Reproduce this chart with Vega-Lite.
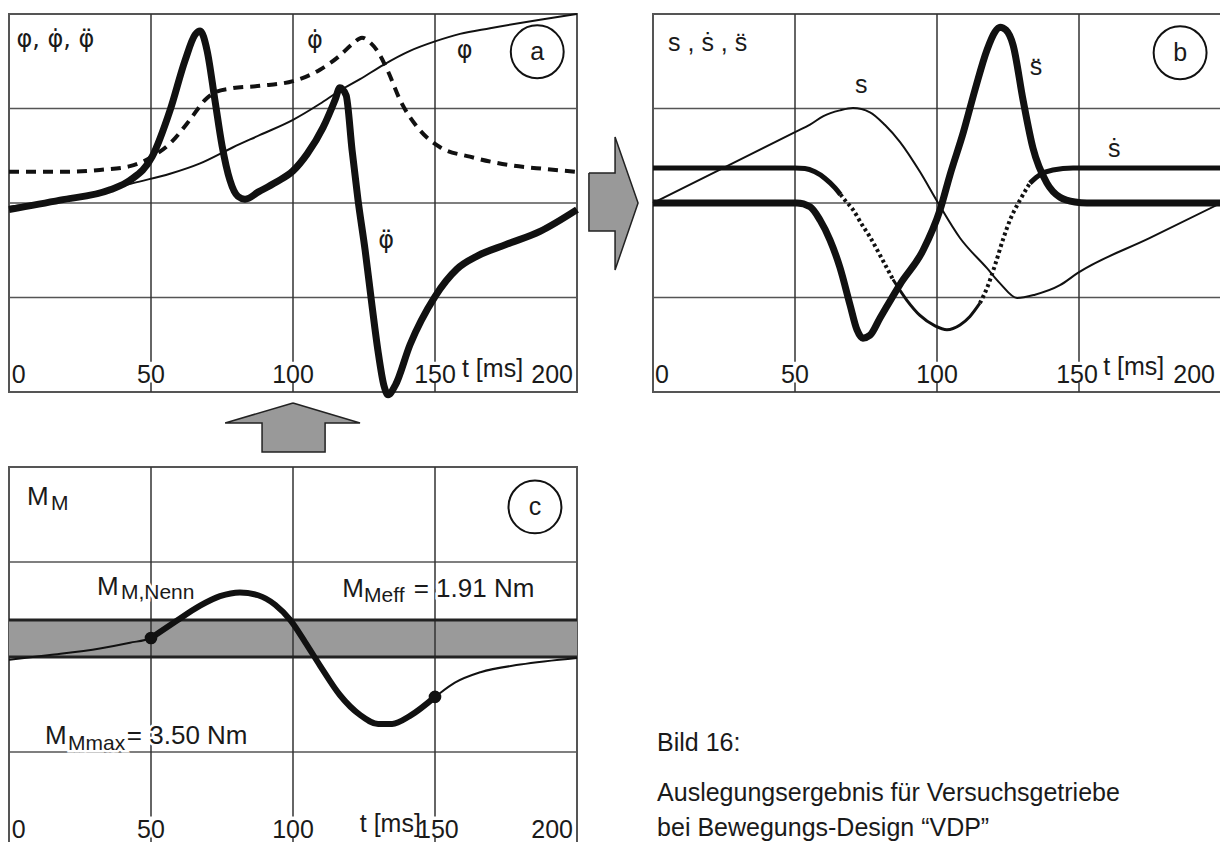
{
  "$schema": "https://vega.github.io/schema/vega-lite/v6.json",
  "background": "white",
  "padding": {"left": -6, "top": 9, "right": 0, "bottom": 0},
  "spacing": 8,
  "config": {
    "view": {"stroke": "#555", "strokeWidth": 2},
    "text": {"font": "Liberation Sans", "color": "#1a1a1a"}
  },
  "datasets": {
    "hgrid": [
      {"t": 0, "t2": 200, "v": -1},
      {"t": 0, "t2": 200, "v": 0},
      {"t": 0, "t2": 200, "v": 1}
    ],
    "vgrid": [
      {"t": 50, "v": -1.68, "v2": 2}, {"t": 50, "v": -2, "v2": -1.9},
      {"t": 100, "v": -1.68, "v2": 2}, {"t": 100, "v": -2, "v2": -1.9},
      {"t": 150, "v": -1.68, "v2": 2}, {"t": 150, "v": -2, "v2": -1.9}
    ],
    "a_phi": [
      {"t": 0, "v": -0.04}, {"t": 14.4, "v": 0.02}, {"t": 32, "v": 0.11}, {"t": 43.7, "v": 0.21},
      {"t": 56.7, "v": 0.31}, {"t": 67.3, "v": 0.42}, {"t": 78.9, "v": 0.59}, {"t": 88.4, "v": 0.72},
      {"t": 100, "v": 0.88}, {"t": 109.5, "v": 1.05}, {"t": 116.5, "v": 1.19}, {"t": 123.6, "v": 1.31},
      {"t": 131.7, "v": 1.46}, {"t": 141.2, "v": 1.61}, {"t": 150, "v": 1.71}, {"t": 158.8, "v": 1.79},
      {"t": 169.4, "v": 1.85}, {"t": 187, "v": 1.94}, {"t": 200, "v": 2.0}
    ],
    "a_dphi": [
      {"t": 0, "v": 0.33}, {"t": 18, "v": 0.33}, {"t": 32, "v": 0.35}, {"t": 42.6, "v": 0.39},
      {"t": 50.4, "v": 0.49}, {"t": 56.7, "v": 0.63}, {"t": 63.7, "v": 0.88}, {"t": 69, "v": 1.09},
      {"t": 72.5, "v": 1.17}, {"t": 77.8, "v": 1.21}, {"t": 88.4, "v": 1.24}, {"t": 100, "v": 1.29},
      {"t": 109.5, "v": 1.41}, {"t": 116.5, "v": 1.56}, {"t": 120.8, "v": 1.68}, {"t": 124.3, "v": 1.75},
      {"t": 127.1, "v": 1.7}, {"t": 129.9, "v": 1.6}, {"t": 133.5, "v": 1.39}, {"t": 137.7, "v": 1.09},
      {"t": 144.7, "v": 0.77}, {"t": 151.8, "v": 0.59}, {"t": 162.3, "v": 0.49}, {"t": 176.4, "v": 0.4},
      {"t": 188.7, "v": 0.36}, {"t": 200, "v": 0.33}
    ],
    "a_ddphi": [
      {"t": 0, "v": -0.07}, {"t": 18, "v": 0.03}, {"t": 35.6, "v": 0.14}, {"t": 42.6, "v": 0.24},
      {"t": 50.4, "v": 0.49}, {"t": 56.7, "v": 0.98}, {"t": 62, "v": 1.51}, {"t": 65.5, "v": 1.78},
      {"t": 67.3, "v": 1.82}, {"t": 69.7, "v": 1.62}, {"t": 72.5, "v": 1.09}, {"t": 75, "v": 0.61},
      {"t": 77.8, "v": 0.24}, {"t": 80.6, "v": 0.07}, {"t": 83.1, "v": 0.04}, {"t": 88, "v": 0.12},
      {"t": 94, "v": 0.22}, {"t": 100, "v": 0.34}, {"t": 105, "v": 0.52}, {"t": 110.6, "v": 0.8},
      {"t": 114.8, "v": 1.09}, {"t": 116.5, "v": 1.22}, {"t": 118.7, "v": 1.14}, {"t": 120.8, "v": 0.56},
      {"t": 122.9, "v": 0.03}, {"t": 125.4, "v": -0.5}, {"t": 127.8, "v": -1.08}, {"t": 129.9, "v": -1.56},
      {"t": 132, "v": -1.93}, {"t": 133.5, "v": -2.03}, {"t": 136, "v": -1.93}, {"t": 141.2, "v": -1.5},
      {"t": 150, "v": -0.99}, {"t": 157.7, "v": -0.7}, {"t": 165, "v": -0.56}, {"t": 175, "v": -0.44},
      {"t": 187, "v": -0.3}, {"t": 200, "v": -0.07}
    ],
    "arrows": [
      {"shape": "right", "i": 0, "t": 204.2, "v": 0.317},
      {"shape": "right", "i": 1, "t": 213.4, "v": 0.317},
      {"shape": "right", "i": 2, "t": 213.4, "v": 0.698},
      {"shape": "right", "i": 3, "t": 221.5, "v": 0},
      {"shape": "right", "i": 4, "t": 213.4, "v": -0.709},
      {"shape": "right", "i": 5, "t": 213.4, "v": -0.296},
      {"shape": "right", "i": 6, "t": 204.2, "v": -0.296},
      {"shape": "right", "i": 7, "t": 204.2, "v": 0.317},
      {"shape": "up", "i": 0, "t": 100, "v": -2.116},
      {"shape": "up", "i": 1, "t": 123.6, "v": -2.328},
      {"shape": "up", "i": 2, "t": 111.3, "v": -2.328},
      {"shape": "up", "i": 3, "t": 111.3, "v": -2.635},
      {"shape": "up", "i": 4, "t": 89.1, "v": -2.635},
      {"shape": "up", "i": 5, "t": 89.1, "v": -2.328},
      {"shape": "up", "i": 6, "t": 76.1, "v": -2.328},
      {"shape": "up", "i": 7, "t": 100, "v": -2.116}
    ],
    "a_txt": [
      {"t": 2.6, "v": 1.65, "txt": "φ, φ̇, φ̈", "pos": "g"},
      {"t": 104.9, "v": 1.64, "txt": "φ̇", "pos": "g"},
      {"t": 157.7, "v": 1.53, "txt": "φ", "pos": "g"},
      {"t": 130, "v": -0.48, "txt": "φ̈", "pos": "g"},
      {"t": 1.0, "v": -1.905, "txt": "0", "pos": "l"},
      {"t": 159.5, "v": -1.84, "txt": "t [ms]", "pos": "l"},
      {"t": 50, "v": -1.905, "txt": "50", "pos": "c"},
      {"t": 100, "v": -1.905, "txt": "100", "pos": "c"},
      {"t": 150, "v": -1.905, "txt": "150", "pos": "c"},
      {"t": 198.6, "v": -1.905, "txt": "200", "pos": "r"},
      {"t": 186, "v": 1.6, "txt": "a", "pos": "m"}
    ],
    "b_s": [
      {"t": 0, "v": 0}, {"t": 25, "v": 0.375}, {"t": 50, "v": 0.751}, {"t": 55.3, "v": 0.83},
      {"t": 60, "v": 0.92}, {"t": 65.8, "v": 0.98}, {"t": 70.4, "v": 1.005}, {"t": 76.4, "v": 0.96},
      {"t": 81.7, "v": 0.825}, {"t": 87, "v": 0.645}, {"t": 94, "v": 0.33}, {"t": 100.4, "v": 0},
      {"t": 108.1, "v": -0.37}, {"t": 117.6, "v": -0.69}, {"t": 122.2, "v": -0.85}, {"t": 128.2, "v": -1.005},
      {"t": 134.5, "v": -0.97}, {"t": 143.3, "v": -0.87}, {"t": 149.6, "v": -0.74}, {"t": 175, "v": -0.37},
      {"t": 200, "v": 0}
    ],
    "b_ds": [
      {"seg": "a", "t": 0, "v": 0.37}, {"seg": "a", "t": 50, "v": 0.37}, {"seg": "a", "t": 53.5, "v": 0.365},
      {"seg": "a", "t": 57, "v": 0.33}, {"seg": "a", "t": 60.6, "v": 0.26}, {"seg": "a", "t": 64.1, "v": 0.16},
      {"seg": "a", "t": 66, "v": 0.09},
      {"seg": "b", "t": 66, "v": 0.09}, {"seg": "b", "t": 67.6, "v": 0.03}, {"seg": "b", "t": 70.4, "v": -0.07},
      {"seg": "b", "t": 73.6, "v": -0.23}, {"seg": "b", "t": 76.4, "v": -0.36}, {"seg": "b", "t": 79.9, "v": -0.55},
      {"seg": "b", "t": 84.5, "v": -0.81},
      {"seg": "c", "t": 84.5, "v": -0.81}, {"seg": "c", "t": 89.4, "v": -1.03}, {"seg": "c", "t": 94, "v": -1.19},
      {"seg": "c", "t": 99.3, "v": -1.3}, {"seg": "c", "t": 103.5, "v": -1.34}, {"seg": "c", "t": 108.1, "v": -1.29},
      {"seg": "c", "t": 111.6, "v": -1.2}, {"seg": "c", "t": 115.1, "v": -1.06},
      {"seg": "d", "t": 115.1, "v": -1.06}, {"seg": "d", "t": 117.6, "v": -0.9}, {"seg": "d", "t": 120.4, "v": -0.66},
      {"seg": "d", "t": 123.2, "v": -0.39}, {"seg": "d", "t": 125.7, "v": -0.18}, {"seg": "d", "t": 129.2, "v": 0.03},
      {"seg": "d", "t": 132.7, "v": 0.21},
      {"seg": "e", "t": 132.7, "v": 0.21}, {"seg": "e", "t": 136.3, "v": 0.3}, {"seg": "e", "t": 140.8, "v": 0.35},
      {"seg": "e", "t": 147.9, "v": 0.37}, {"seg": "e", "t": 200, "v": 0.37}
    ],
    "b_dds": [
      {"t": 0, "v": 0}, {"t": 50.7, "v": 0}, {"t": 55.3, "v": -0.04}, {"t": 58.8, "v": -0.18},
      {"t": 62.3, "v": -0.39}, {"t": 65.8, "v": -0.68}, {"t": 69.4, "v": -1.08}, {"t": 71.8, "v": -1.34},
      {"t": 73.9, "v": -1.43}, {"t": 76.4, "v": -1.4}, {"t": 79.9, "v": -1.22}, {"t": 87, "v": -0.86},
      {"t": 95.1, "v": -0.5}, {"t": 101.1, "v": -0.07}, {"t": 104.6, "v": 0.3}, {"t": 109.2, "v": 0.74},
      {"t": 113.4, "v": 1.2}, {"t": 117.6, "v": 1.62}, {"t": 120.4, "v": 1.81}, {"t": 122.2, "v": 1.86},
      {"t": 124.3, "v": 1.83}, {"t": 126.8, "v": 1.67}, {"t": 130.3, "v": 1.09}, {"t": 133.8, "v": 0.58},
      {"t": 138.7, "v": 0.21}, {"t": 143.3, "v": 0.06}, {"t": 148.6, "v": 0.01}, {"t": 152.8, "v": 0},
      {"t": 200, "v": 0}
    ],
    "b_txt": [
      {"t": 5.3, "v": 1.61, "txt": "s , ṡ , s̈", "pos": "l"},
      {"t": 71.1, "v": 1.16, "txt": "s", "pos": "l"},
      {"t": 132.7, "v": 1.35, "txt": "s̈", "pos": "l"},
      {"t": 160.2, "v": 0.49, "txt": "ṡ", "pos": "l"},
      {"t": 0.7, "v": -1.905, "txt": "0", "pos": "l"},
      {"t": 158.5, "v": -1.82, "txt": "t [ms]", "pos": "l"},
      {"t": 50, "v": -1.905, "txt": "50", "pos": "c"},
      {"t": 100, "v": -1.905, "txt": "100", "pos": "c"},
      {"t": 149.3, "v": -1.905, "txt": "150", "pos": "c"},
      {"t": 197.9, "v": -1.905, "txt": "200", "pos": "r"},
      {"t": 185.6, "v": 1.59, "txt": "b", "pos": "m"}
    ],
    "c_band": [{"t": 0, "t2": 200, "v": 0, "v2": 0.39}],
    "c_edges": [{"t": 0, "t2": 200, "v": 0}, {"t": 0, "t2": 200, "v": 0.39}],
    "c_hgrid": [{"t": 0, "t2": 200, "v": -1}, {"t": 0, "t2": 200, "v": 1}],
    "c_m": [
      {"t": 0, "v": -0.03}, {"t": 14.4, "v": 0.02}, {"t": 32, "v": 0.09}, {"t": 42.6, "v": 0.15},
      {"t": 50, "v": 0.2}, {"t": 58.5, "v": 0.37}, {"t": 67.3, "v": 0.54}, {"t": 74.3, "v": 0.64},
      {"t": 81.3, "v": 0.68}, {"t": 87.7, "v": 0.65}, {"t": 93.7, "v": 0.55}, {"t": 99, "v": 0.39},
      {"t": 104.2, "v": 0.16}, {"t": 109.5, "v": -0.09}, {"t": 116.5, "v": -0.4}, {"t": 123.6, "v": -0.61},
      {"t": 130, "v": -0.705}, {"t": 134.9, "v": -0.705}, {"t": 141.2, "v": -0.62}, {"t": 150, "v": -0.42},
      {"t": 157, "v": -0.27}, {"t": 166, "v": -0.16}, {"t": 180, "v": -0.08}, {"t": 200, "v": -0.01}
    ],
    "c_dots": [{"t": 50, "v": 0.2}, {"t": 150, "v": -0.42}],
    "c_txt": [
      {"t": 6.3, "v": 1.6, "txt": "M", "pos": "L"},
      {"t": 14.8, "v": 1.547, "txt": "M", "pos": "s"},
      {"t": 31, "v": 0.653, "txt": "M", "pos": "L"},
      {"t": 39.4, "v": 0.61, "txt": "M,Nenn", "pos": "s"},
      {"t": 117.3, "v": 0.632, "txt": "M", "pos": "L"},
      {"t": 125.0, "v": 0.58, "txt": "Meff", "pos": "s"},
      {"t": 142.5, "v": 0.632, "txt": "= 1.91 Nm", "pos": "L"},
      {"t": 12.7, "v": -0.916, "txt": "M", "pos": "L"},
      {"t": 20.8, "v": -0.98, "txt": "Mmax", "pos": "s"},
      {"t": 41.5, "v": -0.916, "txt": "= 3.50 Nm", "pos": "L"},
      {"t": 1.0, "v": -1.905, "txt": "0", "pos": "l"},
      {"t": 123.5, "v": -1.84, "txt": "t [ms]", "pos": "l"},
      {"t": 50, "v": -1.905, "txt": "50", "pos": "c"},
      {"t": 100, "v": -1.905, "txt": "100", "pos": "c"},
      {"t": 151, "v": -1.905, "txt": "150", "pos": "c"},
      {"t": 198.6, "v": -1.905, "txt": "200", "pos": "r"},
      {"t": 185.2, "v": 1.58, "txt": "c", "pos": "m"},
      {"t": 228.2, "v": -0.99, "txt": "Bild 16:", "pos": "l"},
      {"t": 228.2, "v": -1.516, "txt": "Auslegungsergebnis für Versuchsgetriebe", "pos": "l"},
      {"t": 228.2, "v": -1.884, "txt": "bei Bewegungs-Design “VDP”", "pos": "l"}
    ]
  },
  "vconcat": [
    {
      "hconcat": [
        {
          "width": 568,
          "height": 378,
          "encoding": {
            "x": {"field": "t", "type": "quantitative", "scale": {"domain": [0, 200], "nice": false, "zero": false}, "axis": null},
            "y": {"field": "v", "type": "quantitative", "scale": {"domain": [-2, 2], "nice": false, "zero": false}, "axis": null}
          },
          "layer": [
            {"data": {"name": "hgrid"}, "mark": {"type": "rule", "color": "#555", "strokeWidth": 1.5}, "encoding": {"x2": {"field": "t2"}}},
            {"data": {"name": "vgrid"}, "mark": {"type": "rule", "color": "#333", "strokeWidth": 1.5}, "encoding": {"y2": {"field": "v2"}}},
            {"data": {"name": "a_phi"}, "mark": {"type": "line", "color": "#111", "strokeWidth": 2, "interpolate": "monotone"}, "encoding": {}},
            {"data": {"name": "a_dphi"}, "mark": {"type": "line", "color": "#111", "strokeWidth": 4, "strokeDash": [10, 7], "interpolate": "monotone"}, "encoding": {}},
            {"data": {"name": "a_ddphi"}, "mark": {"type": "line", "color": "#111", "strokeWidth": 7, "interpolate": "monotone"}, "encoding": {}},
            {"data": {"name": "a_txt"}, "transform": [{"filter": "datum.pos == 'g'"}], "mark": {"type": "text", "align": "left", "baseline": "alphabetic", "fontSize": 24, "font": "DejaVu Sans"}, "encoding": {"text": {"field": "txt"}}},
            {"data": {"name": "a_txt"}, "transform": [{"filter": "datum.pos == 'l'"}], "mark": {"type": "text", "align": "left", "baseline": "alphabetic", "fontSize": 25}, "encoding": {"text": {"field": "txt"}}},
            {"data": {"name": "a_txt"}, "transform": [{"filter": "datum.pos == 'c'"}], "mark": {"type": "text", "align": "center", "baseline": "alphabetic", "fontSize": 25}, "encoding": {"text": {"field": "txt"}}},
            {"data": {"name": "a_txt"}, "transform": [{"filter": "datum.pos == 'r'"}], "mark": {"type": "text", "align": "right", "baseline": "alphabetic", "fontSize": 25}, "encoding": {"text": {"field": "txt"}}},
            {"data": {"name": "a_txt"}, "transform": [{"filter": "datum.pos == 'm'"}], "mark": {"type": "point", "shape": "circle", "size": 2800, "filled": false, "color": "#111", "strokeWidth": 2, "opacity": 1}},
            {"data": {"name": "a_txt"}, "transform": [{"filter": "datum.pos == 'm'"}], "mark": {"type": "text", "align": "center", "baseline": "middle", "fontSize": 25}, "encoding": {"text": {"field": "txt"}}},
            {"data": {"name": "arrows"}, "mark": {"type": "line", "fill": "#999", "color": "#222", "strokeWidth": 1.5, "interpolate": "linear"}, "encoding": {"order": {"field": "i", "type": "quantitative"}, "detail": {"field": "shape"}}}
          ]
        },
        {
          "width": 568,
          "height": 378,
          "encoding": {
            "x": {"field": "t", "type": "quantitative", "scale": {"domain": [0, 200], "nice": false, "zero": false}, "axis": null},
            "y": {"field": "v", "type": "quantitative", "scale": {"domain": [-2, 2], "nice": false, "zero": false}, "axis": null}
          },
          "layer": [
            {"data": {"name": "hgrid"}, "mark": {"type": "rule", "color": "#555", "strokeWidth": 1.5}, "encoding": {"x2": {"field": "t2"}}},
            {"data": {"name": "vgrid"}, "mark": {"type": "rule", "color": "#333", "strokeWidth": 1.5}, "encoding": {"y2": {"field": "v2"}}},
            {"data": {"name": "b_s"}, "mark": {"type": "line", "color": "#111", "strokeWidth": 2, "interpolate": "monotone"}, "encoding": {}},
            {"data": {"name": "b_ds"}, "transform": [{"filter": "datum.seg == 'a' || datum.seg == 'e'"}], "mark": {"type": "line", "color": "#111", "strokeWidth": 5, "interpolate": "monotone"}, "encoding": {"detail": {"field": "seg"}}},
            {"data": {"name": "b_ds"}, "transform": [{"filter": "datum.seg == 'b' || datum.seg == 'd'"}], "mark": {"type": "line", "color": "#111", "strokeWidth": 4, "strokeDash": [3, 3], "interpolate": "monotone"}, "encoding": {"detail": {"field": "seg"}}},
            {"data": {"name": "b_ds"}, "transform": [{"filter": "datum.seg == 'c'"}], "mark": {"type": "line", "color": "#111", "strokeWidth": 3, "interpolate": "monotone"}, "encoding": {}},
            {"data": {"name": "b_dds"}, "mark": {"type": "line", "color": "#111", "strokeWidth": 7, "interpolate": "monotone"}, "encoding": {}},
            {"data": {"name": "b_txt"}, "transform": [{"filter": "datum.pos == 'l'"}], "mark": {"type": "text", "align": "left", "baseline": "alphabetic", "fontSize": 25}, "encoding": {"text": {"field": "txt"}}},
            {"data": {"name": "b_txt"}, "transform": [{"filter": "datum.pos == 'c'"}], "mark": {"type": "text", "align": "center", "baseline": "alphabetic", "fontSize": 25}, "encoding": {"text": {"field": "txt"}}},
            {"data": {"name": "b_txt"}, "transform": [{"filter": "datum.pos == 'r'"}], "mark": {"type": "text", "align": "right", "baseline": "alphabetic", "fontSize": 25}, "encoding": {"text": {"field": "txt"}}},
            {"data": {"name": "b_txt"}, "transform": [{"filter": "datum.pos == 'm'"}], "mark": {"type": "point", "shape": "circle", "size": 2800, "filled": false, "color": "#111", "strokeWidth": 2, "opacity": 1}},
            {"data": {"name": "b_txt"}, "transform": [{"filter": "datum.pos == 'm'"}], "mark": {"type": "text", "align": "center", "baseline": "middle", "fontSize": 25}, "encoding": {"text": {"field": "txt"}}}
          ]
        }
      ],
      "spacing": 76,
      "bounds": "flush"
    },
    {
      "width": 568,
      "height": 380,
      "encoding": {
        "x": {"field": "t", "type": "quantitative", "scale": {"domain": [0, 200], "nice": false, "zero": false}, "axis": null},
        "y": {"field": "v", "type": "quantitative", "scale": {"domain": [-2, 2], "nice": false, "zero": false}, "axis": null}
      },
      "layer": [
        {"data": {"name": "c_band"}, "mark": {"type": "rect", "color": "#9a9a9a"}, "encoding": {"x2": {"field": "t2"}, "y2": {"field": "v2"}}},
        {"data": {"name": "c_hgrid"}, "mark": {"type": "rule", "color": "#555", "strokeWidth": 1.5}, "encoding": {"x2": {"field": "t2"}}},
        {"data": {"name": "vgrid"}, "mark": {"type": "rule", "color": "#333", "strokeWidth": 1.5}, "encoding": {"y2": {"field": "v2"}}},
        {"data": {"name": "c_edges"}, "mark": {"type": "rule", "color": "#222", "strokeWidth": 3}, "encoding": {"x2": {"field": "t2"}}},
        {"data": {"name": "c_txt"}, "transform": [{"filter": "datum.pos == 'L'"}], "mark": {"type": "text", "align": "left", "baseline": "alphabetic", "fontSize": 26, "stroke": "white", "strokeWidth": 5, "color": "white"}, "encoding": {"text": {"field": "txt"}}},
        {"data": {"name": "c_txt"}, "transform": [{"filter": "datum.pos == 's'"}], "mark": {"type": "text", "align": "left", "baseline": "alphabetic", "fontSize": 21, "stroke": "white", "strokeWidth": 5, "color": "white"}, "encoding": {"text": {"field": "txt"}}},
        {"data": {"name": "c_m"}, "mark": {"type": "line", "color": "#111", "strokeWidth": 2, "interpolate": "monotone"}, "encoding": {}},
        {"data": {"name": "c_m"}, "transform": [{"filter": "datum.t >= 50 && datum.t <= 150"}], "mark": {"type": "line", "color": "#111", "strokeWidth": 6, "interpolate": "monotone"}, "encoding": {}},
        {"data": {"name": "c_dots"}, "mark": {"type": "point", "shape": "circle", "size": 160, "filled": true, "color": "#111", "opacity": 1}},
        {"data": {"name": "c_txt"}, "transform": [{"filter": "datum.pos == 'L'"}], "mark": {"type": "text", "align": "left", "baseline": "alphabetic", "fontSize": 26}, "encoding": {"text": {"field": "txt"}}},
        {"data": {"name": "c_txt"}, "transform": [{"filter": "datum.pos == 's'"}], "mark": {"type": "text", "align": "left", "baseline": "alphabetic", "fontSize": 21}, "encoding": {"text": {"field": "txt"}}},
        {"data": {"name": "c_txt"}, "transform": [{"filter": "datum.pos == 'l'"}], "mark": {"type": "text", "align": "left", "baseline": "alphabetic", "fontSize": 25}, "encoding": {"text": {"field": "txt"}}},
        {"data": {"name": "c_txt"}, "transform": [{"filter": "datum.pos == 'c'"}], "mark": {"type": "text", "align": "center", "baseline": "alphabetic", "fontSize": 25}, "encoding": {"text": {"field": "txt"}}},
        {"data": {"name": "c_txt"}, "transform": [{"filter": "datum.pos == 'r'"}], "mark": {"type": "text", "align": "right", "baseline": "alphabetic", "fontSize": 25}, "encoding": {"text": {"field": "txt"}}},
        {"data": {"name": "c_txt"}, "transform": [{"filter": "datum.pos == 'm'"}], "mark": {"type": "point", "shape": "circle", "size": 2800, "filled": false, "color": "#111", "strokeWidth": 2, "opacity": 1}},
        {"data": {"name": "c_txt"}, "transform": [{"filter": "datum.pos == 'm'"}], "mark": {"type": "text", "align": "center", "baseline": "middle", "fontSize": 25}, "encoding": {"text": {"field": "txt"}}}
      ]
    }
  ]
}
